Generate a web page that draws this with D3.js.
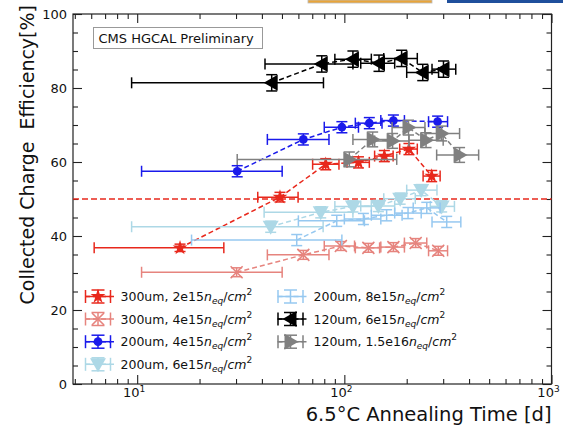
<!DOCTYPE html>
<html>
<head>
<meta charset="utf-8">
<script src="https://cdn.jsdelivr.net/npm/d3@7"></script>
<style>
body { margin: 0; background: #fff; }
text { font-family: "DejaVu Sans", sans-serif; }
</style>
</head>
<body>
<div id="chart"></div>
<script>
// values
// time = annealing time [d], eff = collected charge efficiency [%]
// tLo / tHi = ends of the horizontal error bar, effErr = half height of vertical error bar

var xTicks = [10, 100, 1000];
var xMinor = [5, 6, 7, 8, 9, 20, 30, 40, 50, 60, 70, 80, 90, 200, 300, 400, 500, 600, 700, 800, 900];
var yTicks = [0, 20, 40, 60, 80, 100];
var threshold = 50;

// 300um, 2e15
var time300_2e15 = [16.1, 48.9, 81.3, 117, 156, 205, 264];
var eff300_2e15 = [36.8, 50.5, 59.4, 59.9, 61.6, 63.5, 56.2];
var tLo300_2e15 = [6.2, 38.2, 70.3, 103, 140, 185, 240];
var tHi300_2e15 = [26.2, 59.8, 94.2, 132, 172, 225, 290];
var effErr300_2e15 = [1.0, 1.3, 1.5, 1.5, 1.5, 1.5, 1.5];

// 300um, 4e15
var time300_4e15 = [30.2, 63.4, 96.2, 130.6, 172.5, 221, 284];
var eff300_4e15 = [30.2, 34.9, 37.3, 36.8, 37.0, 38.1, 36.0];
var tLo300_4e15 = [10.5, 42.5, 80, 113, 150, 195, 255];
var tHi300_4e15 = [50.1, 84.3, 112, 148, 195, 250, 315];
var effErr300_4e15 = [1.2, 1.2, 1.2, 1.2, 1.2, 1.2, 1.2];

// 200um, 4e15
var time200_4e15 = [30.4, 63.4, 97.3, 132, 172.5, 282];
var eff200_4e15 = [57.5, 66.1, 69.4, 70.5, 71.2, 70.9];
var tLo200_4e15 = [10.5, 42.5, 80, 113, 150, 255];
var tHi200_4e15 = [50.1, 84.3, 117, 152, 195, 315];
var effErr200_4e15 = [1.5, 1.5, 1.5, 1.5, 1.5, 1.5];

// 200um, 6e15
var time200_6e15 = [44.1, 76.9, 110, 146, 186, 235, 295];
var eff200_6e15 = [42.5, 46.4, 48.0, 48.1, 50.1, 52.4, 48.0];
var tLo200_6e15 = [9.4, 41, 90, 120, 155, 200, 260];
var tHi200_6e15 = [79, 110, 135, 175, 220, 280, 340];
var effErr200_6e15 = [1.5, 1.5, 1.5, 1.5, 1.5, 1.5, 1.5];

// 200um, 8e15
var time200_8e15 = [58.9, 91.9, 123.6, 160, 203, 250, 312];
var eff200_8e15 = [38.9, 44.1, 44.6, 45.6, 46.2, 47.6, 43.8];
var tLo200_8e15 = [18.3, 60, 100, 135, 175, 215, 265];
var tHi200_8e15 = [97.3, 125, 150, 190, 235, 290, 365];
var effErr200_8e15 = [1.5, 1.5, 1.5, 1.5, 1.5, 1.5, 1.5];

// 120um, 6e15
var time120_6e15 = [44.6, 77.8, 110, 147, 189, 239, 301];
var eff120_6e15 = [81.4, 86.5, 87.8, 86.7, 88.0, 84.2, 85.1];
var tLo120_6e15 = [9.4, 41.4, 90, 120, 155, 200, 265];
var tHi120_6e15 = [79.3, 110, 135, 175, 225, 285, 345];
var effErr120_6e15 = [2.2, 2.2, 2.2, 2.2, 2.2, 2.2, 2.2];

// 120um, 1.5e16
var time120_15e16 = [105.7, 137, 171, 204, 248, 295, 360];
var eff120_15e16 = [60.7, 66.1, 65.7, 69.3, 65.9, 67.7, 61.9];
var tLo120_15e16 = [30.4, 110, 140, 170, 205, 245, 279];
var tHi120_15e16 = [179, 170, 205, 245, 300, 360, 445];
var effErr120_15e16 = [2, 2, 2, 2, 2, 2, 2];

function rows(t, e, lo, hi, err) {
    return t.map(function(d, i) {
        return {t: d, eff: e[i], lo: lo[i], hi: hi[i], err: err[i]};
    });
}

var series = [
    {name: "300um, 2e15", color: "#e8281c", marker: "star", col: 0, row: 0,
     data: rows(time300_2e15, eff300_2e15, tLo300_2e15, tHi300_2e15, effErr300_2e15)},
    {name: "300um, 4e15", color: "#e6847e", marker: "x", col: 0, row: 1,
     data: rows(time300_4e15, eff300_4e15, tLo300_4e15, tHi300_4e15, effErr300_4e15)},
    {name: "200um, 4e15", color: "#1a1aeb", marker: "circle", col: 0, row: 2,
     data: rows(time200_4e15, eff200_4e15, tLo200_4e15, tHi200_4e15, effErr200_4e15)},
    {name: "200um, 6e15", color: "#add8e6", marker: "down", col: 0, row: 3,
     data: rows(time200_6e15, eff200_6e15, tLo200_6e15, tHi200_6e15, effErr200_6e15)},
    {name: "200um, 8e15", color: "#96c8f0", marker: "none", col: 1, row: 0,
     data: rows(time200_8e15, eff200_8e15, tLo200_8e15, tHi200_8e15, effErr200_8e15)},
    {name: "120um, 6e15", color: "#000000", marker: "left", col: 1, row: 1,
     data: rows(time120_6e15, eff120_6e15, tLo120_6e15, tHi120_6e15, effErr120_6e15)},
    {name: "120um, 1.5e16", color: "#808080", marker: "right", col: 1, row: 2,
     data: rows(time120_15e16, eff120_15e16, tLo120_15e16, tHi120_15e16, effErr120_15e16)}
];

var svgWidth = 563, svgHeight = 425;
var plot = {left: 73, right: 551.5, top: 14, bottom: 384};

var svg = d3.select("#chart")
            .append("svg")
            .attr("width", svgWidth)
            .attr("height", svgHeight);

// bits of logos cut off at the top edge
svg.append("rect").attr("x", 308).attr("y", 0).attr("width", 124).attr("height", 3)
    .attr("fill", "#e9a53a").attr("stroke", "#bbb").attr("stroke-width", 0.8);
svg.append("rect").attr("x", 447).attr("y", 0).attr("width", 116).attr("height", 3)
    .attr("fill", "#1f4f9c");

var xScale = d3.scaleLog()
        .domain([4.9, 1000])
        .range([plot.left, plot.right]);

var yScale = d3.scaleLinear()
        .domain([0, 100])
        .range([plot.bottom, plot.top]);

// ticks on all four sides, pointing in
function noDomain(g) { g.select(".domain").remove(); }
var axisColor = "#222";

svg.append("g").attr("transform", `translate(0,${plot.bottom})`).attr("color", axisColor)
    .call(d3.axisBottom(xScale).tickValues(xTicks).tickSize(-9).tickFormat("")).call(noDomain);
svg.append("g").attr("transform", `translate(0,${plot.bottom})`).attr("color", axisColor)
    .call(d3.axisBottom(xScale).tickValues(xMinor).tickSize(-5).tickFormat("")).call(noDomain);
svg.append("g").attr("transform", `translate(0,${plot.top})`).attr("color", axisColor)
    .call(d3.axisTop(xScale).tickValues(xTicks).tickSize(-9).tickFormat("")).call(noDomain);
svg.append("g").attr("transform", `translate(0,${plot.top})`).attr("color", axisColor)
    .call(d3.axisTop(xScale).tickValues(xMinor).tickSize(-5).tickFormat("")).call(noDomain);

var yMinor = d3.range(5, 100, 5).filter(d => d % 20 != 0);
svg.append("g").attr("transform", `translate(${plot.left},0)`).attr("color", axisColor)
    .call(d3.axisLeft(yScale).tickValues(yTicks).tickSize(-9).tickFormat("")).call(noDomain);
svg.append("g").attr("transform", `translate(${plot.left},0)`).attr("color", axisColor)
    .call(d3.axisLeft(yScale).tickValues(yMinor).tickSize(-5).tickFormat("")).call(noDomain);
svg.append("g").attr("transform", `translate(${plot.right},0)`).attr("color", axisColor)
    .call(d3.axisRight(yScale).tickValues(yTicks).tickSize(-9).tickFormat("")).call(noDomain);
svg.append("g").attr("transform", `translate(${plot.right},0)`).attr("color", axisColor)
    .call(d3.axisRight(yScale).tickValues(yMinor).tickSize(-5).tickFormat("")).call(noDomain);

svg.selectAll(".tick line").attr("stroke-width", 1.1);

svg.append("rect")
    .attr("x", plot.left).attr("y", plot.top)
    .attr("width", plot.right - plot.left).attr("height", plot.bottom - plot.top)
    .attr("fill", "none").attr("stroke", axisColor).attr("stroke-width", 1.2);

// tick labels
svg.append("g").selectAll("text")
    .data(yTicks).enter()
    .append("text")
        .attr("x", 67)
        .attr("y", d => yScale(d))
        .attr("dy", "0.36em")
        .attr("text-anchor", "end")
        .attr("font-size", 13)
        .attr("fill", "#111")
        .text(d => d);

var xLab = svg.append("g").selectAll("text")
    .data(xTicks).enter()
    .append("text")
        .attr("x", d => xScale(d) - 3)
        .attr("y", 397)
        .attr("text-anchor", "middle")
        .attr("font-size", 13)
        .attr("fill", "#111");
xLab.append("tspan").text("10");
xLab.append("tspan").attr("dy", -5).attr("font-size", 9).text(d => Math.round(Math.log10(d)));

// axis titles
svg.append("text")
    .attr("transform", "translate(34,5) rotate(-90)")
    .attr("text-anchor", "end")
    .attr("font-size", 19)
    .style("white-space", "pre")
    .attr("fill", "#111")
    .text("Collected Charge  Efficiency[%]");

svg.append("text")
    .attr("x", plot.right)
    .attr("y", 421)
    .attr("text-anchor", "end")
    .attr("font-size", 19.5)
    .attr("fill", "#111")
    .text("6.5\u00B0C Annealing Time [d]");

// CMS label box
svg.append("rect")
    .attr("x", 93.5).attr("y", 27.5).attr("width", 169).attr("height", 21)
    .attr("fill", "#fff").attr("stroke", "#999").attr("stroke-width", 1);
svg.append("text")
    .attr("x", 98.5).attr("y", 43)
    .attr("font-size", 13)
    .attr("fill", "#111")
    .text("CMS HGCAL Preliminary");

// 50% reference line
svg.append("line")
    .attr("x1", plot.left).attr("x2", plot.right)
    .attr("y1", yScale(threshold)).attr("y2", yScale(threshold))
    .attr("stroke", "#e8281c").attr("stroke-width", 1.6)
    .attr("stroke-dasharray", "6,3");

// marker shapes
function markerPath(type) {
    var s = 8;
    if (type == "star") return d3.symbol(d3.symbolStar, 68)();
    if (type == "circle") return d3.symbol(d3.symbolCircle, 60)();
    if (type == "down") return `M${-s},${-0.75 * s}L${s},${-0.75 * s}L0,${s}Z`;
    if (type == "left") return `M${-s},0L${0.75 * s},${-s}L${0.75 * s},${s}Z`;
    if (type == "right") return `M${s},0L${-0.75 * s},${-s}L${-0.75 * s},${s}Z`;
    if (type == "x") return "M-6,-6L6,6M-6,6L6,-6";
    return null;
}

function drawMarker(g, s, cx, cy) {
    var p = markerPath(s.marker);
    if (!p) return;
    var m = g.append("path")
        .attr("d", p)
        .attr("transform", `translate(${cx},${cy})`);
    if (s.marker == "x") {
        m.attr("fill", "none").attr("stroke", s.color).attr("stroke-width", 1.6);
    } else {
        m.attr("fill", s.color);
    }
}

function errorCross(g, color, x1, x2, cx, y1, y2, cy, cap) {
    var lines = [
        [x1, cy, x2, cy], [x1, cy - cap, x1, cy + cap], [x2, cy - cap, x2, cy + cap],
        [cx, y1, cx, y2], [cx - cap, y1, cx + cap, y1], [cx - cap, y2, cx + cap, y2]
    ];
    g.selectAll(null).data(lines).enter()
        .append("line")
            .attr("x1", d => d[0]).attr("y1", d => d[1])
            .attr("x2", d => d[2]).attr("y2", d => d[3])
            .attr("stroke", color)
            .attr("stroke-width", 1.5);
}

var line = d3.line()
    .x(d => xScale(d.t))
    .y(d => yScale(d.eff));

series.forEach(function(s) {
    var g = svg.append("g");

    g.append("path")
        .attr("d", line(s.data))
        .attr("fill", "none")
        .attr("stroke", s.color)
        .attr("stroke-width", 1.5)
        .attr("stroke-dasharray", "5,3");

    s.data.forEach(function(d) {
        errorCross(g, s.color,
            xScale(d.lo), xScale(d.hi), xScale(d.t),
            yScale(d.eff + d.err), yScale(d.eff - d.err), yScale(d.eff), 5.5);
    });
    s.data.forEach(function(d) {
        drawMarker(g, s, xScale(d.t), yScale(d.eff));
    });
});

// legend
var legendX = [98, 290.5];
var legendTextX = [120.5, 313.5];
var legendY = [296.5, 319, 341.7, 364.3];

series.forEach(function(s) {
    var cx = legendX[s.col], cy = legendY[s.row];
    var g = svg.append("g");
    g.append("line")
        .attr("x1", cx - 13).attr("x2", cx + 16)
        .attr("y1", cy).attr("y2", cy)
        .attr("stroke", s.color).attr("stroke-width", 1.5)
        .attr("stroke-dasharray", "5,3");
    errorCross(g, s.color, cx - 12.5, cx + 12.5, cx, cy - 6.5, cy + 6.5, cy, 6.5);
    drawMarker(g, s, cx, cy);

    var t = g.append("text")
        .attr("x", legendTextX[s.col])
        .attr("y", cy + 4.5)
        .attr("font-size", 12.5)
        .attr("fill", "#111");
    t.append("tspan").text(s.name);
    t.append("tspan").attr("font-style", "italic").text("n");
    t.append("tspan").attr("font-style", "italic").attr("font-size", 9).attr("dy", 3).text("eq");
    t.append("tspan").attr("dy", -3).text("/");
    t.append("tspan").attr("font-style", "italic").text("cm");
    t.append("tspan").attr("font-size", 9).attr("dy", -6).text("2");
});
</script>
</body>
</html>
